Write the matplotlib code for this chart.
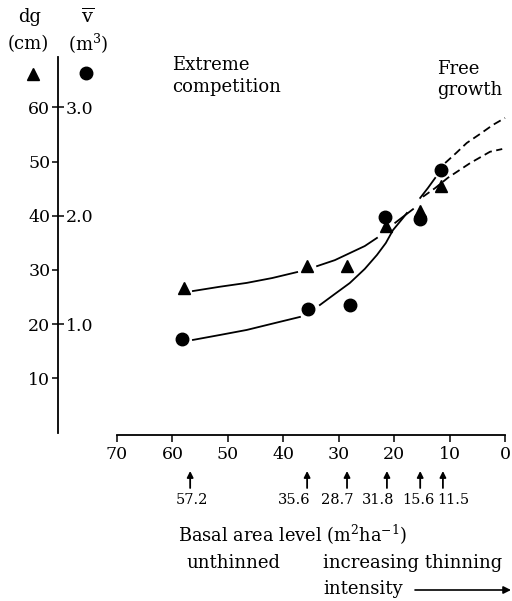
import numpy as np
import matplotlib
matplotlib.use("Agg")
import matplotlib.pyplot as plt

# figure size in pixels
W, H = 512, 601

# basal area levels of the thinning treatments (m2/ha): arrow positions + printed labels
basal = [56.8, 35.7, 28.5, 21.3, 15.3, 11.2]
basal_labels = ["57.2", "35.6", "28.7", "31.8", "15.6", "11.5"]
label_pos = [56.5, 38.1, 30.3, 22.9, 15.7, 9.4]

# mean diameter dg (cm), triangles
dg_x = [57.9, 35.7, 28.5, 21.5, 15.3, 11.5]
dg = [26.7, 30.7, 30.8, 38.1, 40.9, 45.5]

# mean volume v (m3), circles
v_x = [58.3, 35.5, 28.0, 21.6, 15.3, 11.5]
v = [0.86, 1.14, 1.18, 1.99, 1.97, 2.42]

# hand drawn trend lines (broken where they meet the points)
dg_segs = [
    ([56.3, 51.4, 46.6, 42.0, 37.5], [26.1, 26.9, 27.6, 28.5, 29.6]),
    ([33.9, 30.7, 28.0, 25.3, 23.1], [30.7, 31.8, 33.1, 34.4, 35.9]),
    ([19.8, 18.4, 16.6], [38.7, 39.8, 41.2]),
]
dg_dash_x = [14.8, 12.6, 10.3, 6.3, 2.7, 0.5]
dg_dash_y = [43.5, 45.1, 47.0, 49.7, 51.8, 52.3]

v_segs = [
    ([56.3, 51.4, 46.6, 41.5, 37.0], [0.854, 0.900, 0.946, 1.010, 1.066]),
    ([33.4, 30.7, 28.0, 25.3, 23.1, 21.5, 20.2, 18.4, 17.7],
     [1.176, 1.278, 1.379, 1.509, 1.638, 1.748, 1.868, 1.979, 2.025]),
    ([15.3, 13.9, 12.6], [2.164, 2.256, 2.348]),
]
v_dash_x = [10.8, 8.8, 6.9, 4.5, 2.2, 0.0]
v_dash_y = [2.486, 2.579, 2.671, 2.754, 2.837, 2.902]

x_ticks = [70, 60, 50, 40, 30, 20, 10, 0]
dg_major = [20, 40, 60]
dg_minor = [10, 30, 50]
v_ticks = [1.0, 2.0, 3.0]

plt.rcParams['font.family'] = ['DejaVu Serif']
plt.rcParams['mathtext.fontset'] = 'dejavuserif'

fig = plt.figure(figsize=(W / 100, H / 100), dpi=100)
ax = fig.add_axes([0, 0, 1, 1])
ax.patch.set_alpha(0)

# pixel -> data mapping: x0 at px 505, 5.543 px/unit ; y0 at py 432.5, 5.42 px/unit
sx, sy = 5.543, 5.42
ax.set_xlim(505 / sx, (505 - W) / sx)
ax.set_ylim((432.5 - H) / sy, 432.5 / sy)
yaxis_x = (505 - 58) / sx

for s in ['top', 'right']:
    ax.spines[s].set_visible(False)
ax.spines['left'].set_position(('data', yaxis_x))
ax.spines['left'].set_bounds(0, 69.3)
ax.spines['bottom'].set_position(('data', -0.46))
ax.spines['bottom'].set_bounds(0, 70)
for s in ['left', 'bottom']:
    ax.spines[s].set_linewidth(1.3)

ax.set_xticks(x_ticks)
ax.set_xticklabels([str(t) for t in x_ticks], fontsize=12.5)
ax.tick_params(axis='x', direction='out', length=5, width=1.1, pad=3)

ax.set_yticks(dg_major)
ax.set_yticks(dg_minor, minor=True)
ax.set_yticklabels([str(t) for t in dg_major], fontsize=12.5)
ax.set_yticklabels([str(t) for t in dg_minor], minor=True, fontsize=12.5)
ax.tick_params(axis='y', which='major', direction='inout', length=9, width=1.1, pad=1)
ax.tick_params(axis='y', which='minor', direction='out', length=4.5, width=1.1, pad=1)

# second scale for volume, sharing the same vertical line
ax2 = ax.twinx()
ax2.set_ylim(ax.get_ylim()[0] / 20, ax.get_ylim()[1] / 20)
for s in ['top', 'left', 'bottom']:
    ax2.spines[s].set_visible(False)
ax2.spines['right'].set_position(('data', yaxis_x))
ax2.spines['right'].set_linewidth(0)
ax2.set_yticks(v_ticks)
ax2.set_yticklabels(["%.1f" % t for t in v_ticks], fontsize=12.5)
ax2.tick_params(axis='y', length=4.5, width=0, pad=1)

# trend lines
dash = (0, (4.4, 2.5))
for xs, ys in dg_segs:
    ax.plot(xs, ys, color='black', lw=1.3)
ax.plot(dg_dash_x, dg_dash_y, color='black', lw=1.3, ls=dash)
for xs, ys in v_segs:
    ax2.plot(xs, ys, color='black', lw=1.3)
ax2.plot(v_dash_x, v_dash_y, color='black', lw=1.3, ls=dash)

# points
ax.plot(dg_x, dg, ls='none', marker='^', ms=8, color='black')
ax2.plot(v_x, v, ls='none', marker='o', ms=9, color='black')

# symbol keys above the axis
ax.plot([(505 - 33) / sx], [(432.5 - 74) / sy], marker='^', ms=8, color='black', clip_on=False)
ax.plot([(505 - 86) / sx], [(432.5 - 73) / sy], marker='o', ms=9, color='black', clip_on=False)


def at(x, y):
    return x / W, 1 - y / H


fig.text(*at(30, 17), "dg", ha='center', va='center', fontsize=13)
fig.text(*at(28, 44), "(cm)", ha='center', va='center', fontsize=13)
fig.text(*at(88, 17), r"$\overline{\mathrm{v}}$", ha='center', va='center', fontsize=14)
fig.text(*at(88, 44), r"(m$^3$)", ha='center', va='center', fontsize=13)

fig.text(*at(172, 92), "Extreme\ncompetition", ha='left', va='baseline',
         fontsize=13, linespacing=1.25)
fig.text(*at(437, 95), "Free\ngrowth", ha='left', va='baseline',
         fontsize=13, linespacing=1.25)

# arrows marking the treatments
for b in basal:
    ax.annotate('', xy=(b, (432.5 - 471) / sy), xytext=(b, (432.5 - 488) / sy),
                arrowprops=dict(arrowstyle='-|>', color='black', lw=1.3, mutation_scale=9,
                                shrinkA=0, shrinkB=0))
for p, lab in zip(label_pos, basal_labels):
    ax.text(p, (432.5 - 500) / sy, lab, ha='center', va='center', fontsize=10.5)

fig.text(*at(178, 535), r"Basal area level (m$^2$ha$^{-1}$)", ha='left', va='center', fontsize=12.8)
fig.text(*at(186, 563), "unthinned", ha='left', va='center', fontsize=13)
fig.text(*at(323, 563), "increasing thinning", ha='left', va='center', fontsize=13)
fig.text(*at(323, 589), "intensity", ha='left', va='center', fontsize=13)
ax.annotate('', xy=at(511, 590), xytext=at(415, 590), xycoords='figure fraction',
            textcoords='figure fraction',
            arrowprops=dict(arrowstyle='-|>', color='black', lw=1.2, mutation_scale=11,
                            shrinkA=0, shrinkB=0))

fig.savefig("out.png", dpi=100)
